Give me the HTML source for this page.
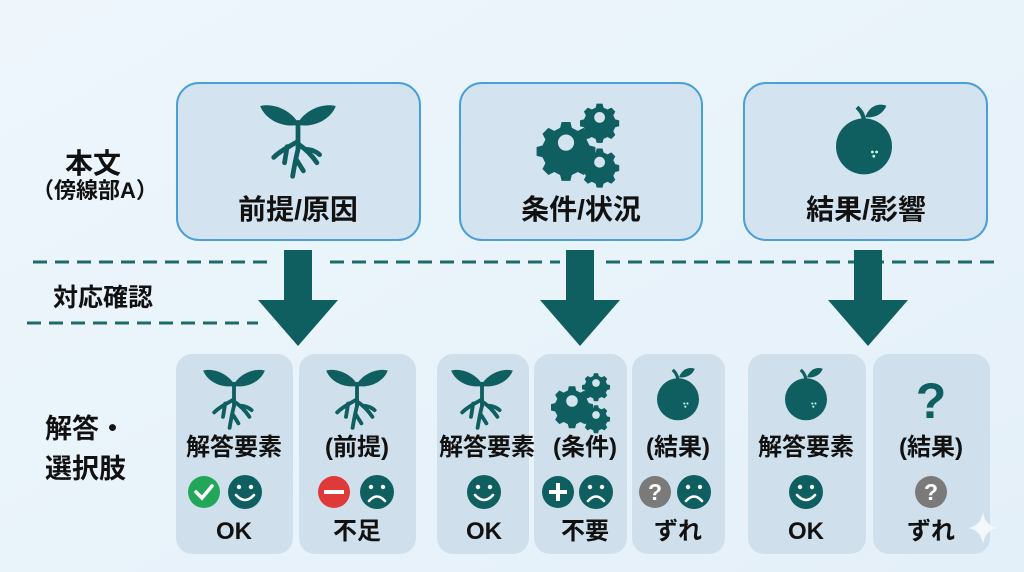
<!DOCTYPE html>
<html><head><meta charset="utf-8"><style>
html,body{margin:0;padding:0;background:#eaf4fb;}
svg{display:block}
text{font-family:"Liberation Sans","Noto Sans CJK JP",sans-serif;font-weight:bold;fill:#111;}
</style></head><body>
<svg width="1024" height="572" viewBox="0 0 1024 572" xmlns="http://www.w3.org/2000/svg">
<defs>
<linearGradient id="bg" x1="0" y1="0" x2="1" y2="1"><stop offset="0" stop-color="#eef6fc"/><stop offset="1" stop-color="#e4f0f9"/></linearGradient>
<g id="sprout">
<path d="M0,-2 C-8,-14 -22,-16 -28,-14 C-24,-4 -12,2 0,0 Z" fill="#0f5f60"/>
<path d="M0,-2 C8,-14 22,-16 28,-14 C24,-4 12,2 0,0 Z" fill="#0f5f60"/>
<g stroke="#0f5f60" stroke-width="3.5" fill="none" stroke-linecap="round">
<path d="M0,-2 L0,18"/><path d="M0,12 C-6,16 -12,18 -18,24"/><path d="M-8,16 L-10,28"/>
<path d="M0,14 C6,18 10,22 14,28"/><path d="M6,18 C10,18 14,20 16,22"/><path d="M0,18 C-2,26 -3,32 -4,38"/><path d="M-1,26 L4,34"/>
</g></g>
<g id="gear"><path d="M-3,-14 h6 l1,4 l4,2 l4,-2 l4,4 l-2,4 l2,4 l4,1 v6 l-4,1 l-2,4 l2,4 l-4,4 l-4,-2 l-4,2 l-1,4 h-6 l-1,-4 l-4,-2 l-4,2 l-4,-4 l2,-4 l-2,-4 l-4,-1 v-6 l4,-1 l2,-4 l-2,-4 l4,-4 l4,2 l4,-2 Z" fill="#0f5f60"/><circle r="5.5" fill="#d3e3ef"/></g>
<g id="gears"><use href="#gear" transform="translate(-10,4) scale(1.05)"/><use href="#gear" transform="translate(14,-14) scale(0.7)"/><use href="#gear" transform="translate(14,18) scale(0.7)"/></g>
<g id="fruit"><circle r="20" cy="6" fill="#0f5f60"/><path d="M0,-13 C-1,-18 -3,-20 -5,-22" stroke="#0f5f60" stroke-width="3" fill="none"/><path d="M1,-15 C4,-24 12,-25 16,-23 C13,-16 6,-14 1,-15 Z" fill="#0f5f60"/><circle cx="6" cy="10" r="1" fill="#cfe"/><circle cx="9" cy="10" r="1" fill="#cfe"/><circle cx="7" cy="13" r="1" fill="#cfe"/></g>
<g id="happy"><circle r="17" fill="#0f5f60"/><circle cx="-6" cy="-5" r="2.2" fill="#fff"/><circle cx="6" cy="-5" r="2.2" fill="#fff"/><path d="M-9,3 Q0,13 9,3" stroke="#fff" stroke-width="2.6" fill="none" stroke-linecap="round"/></g>
<g id="sad"><circle r="17" fill="#0f5f60"/><circle cx="-6" cy="-5" r="2.2" fill="#fff"/><circle cx="6" cy="-5" r="2.2" fill="#fff"/><path d="M-8,9 Q0,0 8,9" stroke="#fff" stroke-width="2.6" fill="none" stroke-linecap="round"/></g>
<g id="qg"><circle r="16" fill="#7a7a7a"/><text x="0" y="8" text-anchor="middle" font-size="23" style="fill:#fff">?</text></g>
<g id="arrow"><rect x="-14" y="0" width="28" height="52" fill="#0f5f60"/><path d="M-40,50 L40,50 L0,96 Z" fill="#0f5f60"/></g>
</defs>
<rect width="1024" height="572" fill="url(#bg)"/>

<g fill="#d3e3ef" stroke="#4a9fd8" stroke-width="2">
<rect x="177" y="83" width="243" height="157" rx="22"/>
<rect x="460" y="83" width="242" height="157" rx="22"/>
<rect x="744" y="83" width="243" height="157" rx="22"/>
</g>
<use href="#sprout" transform="translate(298,125) scale(1.35)"/>
<use href="#gears" transform="translate(580,137) scale(1.4)"/>
<use href="#fruit" transform="translate(864,138) scale(1.4)"/>
<text x="298" y="219" text-anchor="middle" font-size="28">前提/原因</text>
<text x="581" y="219" text-anchor="middle" font-size="28">条件/状況</text>
<text x="866" y="219" text-anchor="middle" font-size="28">結果/影響</text>

<text x="93" y="173" text-anchor="middle" font-size="28">本文</text>
<text x="95" y="198" text-anchor="middle" font-size="22">（傍線部A）</text>
<text x="103" y="306" text-anchor="middle" font-size="25">対応確認</text>
<text x="45" y="438" font-size="27">解答・</text>
<text x="45" y="478" font-size="27">選択肢</text>

<g stroke="#1d6b6b" stroke-width="3" stroke-dasharray="14,8">
<line x1="33" y1="262" x2="268" y2="262"/>
<line x1="330" y1="262" x2="560" y2="262"/>
<line x1="606" y1="262" x2="1000" y2="262"/>
<line x1="27" y1="323" x2="258" y2="323"/>
</g>

<use href="#arrow" transform="translate(298,250)"/>
<use href="#arrow" transform="translate(580,250)"/>
<use href="#arrow" transform="translate(868,250)"/>

<g fill="#cfe0ec">
<rect x="176" y="354" width="117" height="200" rx="16"/>
<rect x="299" y="354" width="117" height="200" rx="16"/>
<rect x="437" y="354" width="92" height="200" rx="16"/>
<rect x="534" y="354" width="93" height="200" rx="16"/>
<rect x="632" y="354" width="93" height="200" rx="16"/>
<rect x="748" y="354" width="118" height="200" rx="16"/>
<rect x="873" y="354" width="117" height="200" rx="16"/>
</g>
<use href="#sprout" transform="translate(234,386) scale(1.1)"/>
<use href="#sprout" transform="translate(357,386) scale(1.1)"/>
<use href="#sprout" transform="translate(482,386) scale(1.1)"/>
<use href="#gears" transform="translate(582,397) scale(1.0)"/>
<use href="#fruit" transform="translate(678,393) scale(1.05)"/>
<use href="#fruit" transform="translate(806,393) scale(1.05)"/>
<text x="931" y="418" text-anchor="middle" font-size="50" style="fill:#0f5f60">?</text>

<g font-size="24" text-anchor="middle">
<text x="234" y="455">解答要素</text>
<text x="357" y="455">(前提)</text>
<text x="487" y="455">解答要素</text>
<text x="585" y="455">(条件)</text>
<text x="678" y="455">(結果)</text>
<text x="806" y="455">解答要素</text>
<text x="931" y="455">(結果)</text>
</g>

<circle cx="204" cy="492" r="16" fill="#22a65a"/><path d="M196,492 L202,498 L212,486" stroke="#fff" stroke-width="3.5" fill="none" stroke-linecap="round"/>
<use href="#happy" transform="translate(245,492)"/>
<circle cx="334" cy="492" r="16" fill="#e0393a"/><rect x="324" y="490" width="20" height="4" fill="#fff"/>
<use href="#sad" transform="translate(377,492)"/>
<use href="#happy" transform="translate(484,492)"/>
<circle cx="558" cy="492" r="16" fill="#0f5f60"/><rect x="549" y="490" width="18" height="4" fill="#fff"/><rect x="556" y="483" width="4" height="18" fill="#fff"/>
<use href="#sad" transform="translate(596,492)"/>
<use href="#qg" transform="translate(655,492)"/>
<use href="#sad" transform="translate(694,492)"/>
<use href="#happy" transform="translate(806,492)"/>
<use href="#qg" transform="translate(931,492)"/>

<g font-size="24" text-anchor="middle">
<text x="234" y="539">OK</text>
<text x="357" y="539">不足</text>
<text x="484" y="539">OK</text>
<text x="585" y="539">不要</text>
<text x="678" y="539">ずれ</text>
<text x="806" y="539">OK</text>
<text x="931" y="539">ずれ</text>
</g>
<path d="M983,512 Q985,526 998,528 Q985,530 983,544 Q981,530 968,528 Q981,526 983,512 Z" fill="#f4f8fb"/>
</svg>
</body></html>
